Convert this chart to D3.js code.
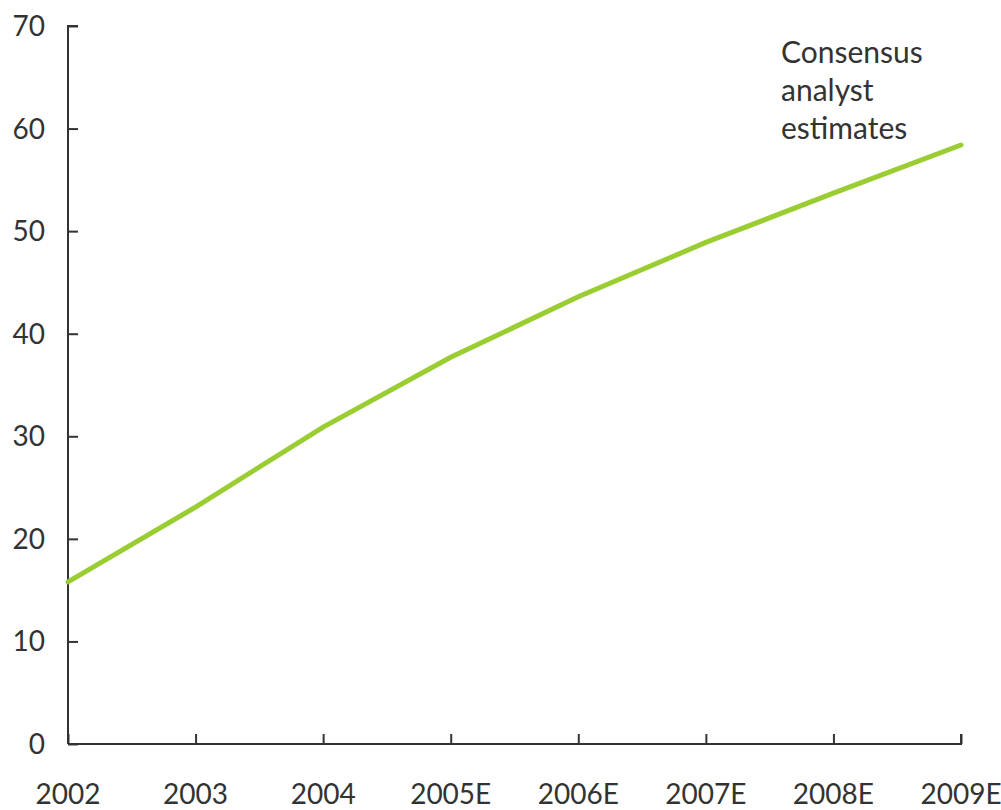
<!DOCTYPE html>
<html><head><meta charset="utf-8">
<script src="https://cdn.jsdelivr.net/npm/d3@7"></script>
<style>body{margin:0;background:#fff}svg{display:block}</style>
</head><body>
<script>
const categories = ["2002","2003","2004","2005E","2006E","2007E","2008E","2009E"];
const values = [15.8, 23.1, 30.9, 37.7, 43.6, 48.9, 53.7, 58.4];
const yTicks = [0,10,20,30,40,50,60,70];
const annotation = ["Consensus","analyst","estimates"];

const W=1001,H=810;
const svg=d3.select("body").append("svg").attr("width",W).attr("height",H);
const x=d3.scalePoint().domain(categories).range([68,961]);
const y=d3.scaleLinear().domain([0,70]).range([744,26]);
const font="Lato, 'Open Sans', sans-serif";
const col="#333";

const ya=svg.append("g").attr("transform","translate(68,0)")
  .call(d3.axisRight(y).tickValues(yTicks).tickSize(10).tickFormat(""));
const xa=svg.append("g").attr("transform","translate(0,744)")
  .call(d3.axisTop(x).tickSize(10).tickFormat(""));
[ya,xa].forEach(a=>{a.selectAll("path,line").attr("stroke",col).attr("stroke-width",2);});
ya.select(".domain").attr("d","M10,26H0V744");
xa.select(".domain").attr("d","M68,0H961V-10");

svg.append("g").selectAll("text").data(yTicks).join("text")
  .attr("x",45).attr("y",d=>y(d)+10).attr("text-anchor","end")
  .attr("font-family",font).attr("font-size",28).attr("fill",col).text(d=>d);
svg.append("g").selectAll("text").data(categories).join("text")
  .attr("x",d=>x(d)).attr("y",804).attr("text-anchor","middle")
  .attr("font-family",font).attr("font-size",28).attr("fill",col).text(d=>d);

svg.append("path").datum(values)
  .attr("d",d3.line().x((d,i)=>x(categories[i])).y(d=>y(d)))
  .attr("fill","none").attr("stroke","#9acd32").attr("stroke-width",5).attr("stroke-linecap","round");

svg.append("g").selectAll("text").data(annotation).join("text")
  .attr("x",781).attr("y",(d,i)=>63+i*38)
  .attr("font-family",font).attr("font-size",30).attr("fill",col).text(d=>d);
</script>
</body></html>
